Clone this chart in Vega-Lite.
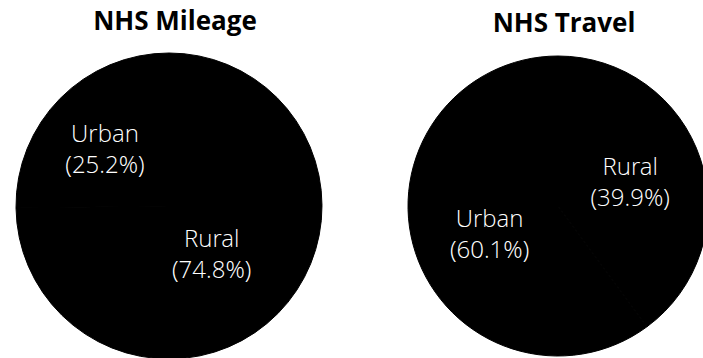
{
  "$schema": "https://vega.github.io/schema/vega-lite/v6.json",
  "padding": {"top": 9, "left": 14, "right": 0, "bottom": 0},
  "background": "white",
  "config": {
    "view": {"stroke": null},
    "concat": {"spacing": 82},
    "title": {"font": "Open Sans", "fontSize": 26, "fontWeight": "bold", "color": "black", "anchor": "middle", "baseline": "bottom", "offset": 16},
    "text": {"font": "Open Sans Light, Open Sans", "fontSize": 24, "fontWeight": 300, "color": "white", "lineBreak": "\n", "lineHeight": 31, "align": "center", "baseline": "middle", "dy": -8}
  },
  "datasets": {
    "mileage": [
      {"category": "Rural", "share": 74.8, "label": "Rural\n(74.8%)"},
      {"category": "Urban", "share": 25.2, "label": "Urban\n(25.2%)"}
    ],
    "travel": [
      {"category": "Rural", "share": 39.9, "label": "Rural\n(39.9%)"},
      {"category": "Urban", "share": 60.1, "label": "Urban\n(60.1%)"}
    ]
  },
  "hconcat": [
    {
      "width": 306,
      "height": 306,
      "title": {"text": "NHS Mileage", "dx": 6},
      "data": {"name": "mileage"},
      "encoding": {"theta": {"field": "share", "type": "quantitative", "stack": true}},
      "layer": [
        {"mark": {"type": "arc", "outerRadius": 153, "color": "black", "stroke": "black", "strokeWidth": 1}},
        {"mark": {"type": "text", "radius": 90},
         "encoding": {"text": {"condition": {"test": "datum.category === 'Urban'", "field": "label"}, "value": ""}}},
        {"mark": {"type": "text", "radius": 60},
         "encoding": {"text": {"condition": {"test": "datum.category === 'Rural'", "field": "label"}, "value": ""}}}
      ]
    },
    {
      "width": 300,
      "height": 306,
      "title": {"text": "NHS Travel", "dx": 6},
      "data": {"name": "travel"},
      "encoding": {"theta": {"field": "share", "type": "quantitative", "stack": true}},
      "layer": [
        {"mark": {"type": "arc", "outerRadius": 150, "color": "black", "stroke": "black", "strokeWidth": 1}},
        {"mark": {"type": "text", "radius": 72},
         "encoding": {"text": {"condition": {"test": "datum.category === 'Urban'", "field": "label"}, "value": ""}}},
        {"mark": {"type": "text", "radius": 76, "dy": -14},
         "encoding": {"text": {"condition": {"test": "datum.category === 'Rural'", "field": "label"}, "value": ""}}}
      ]
    }
  ]
}
